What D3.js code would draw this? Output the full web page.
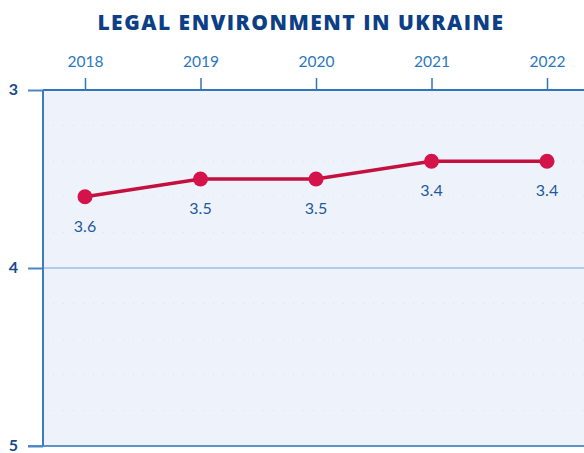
<!DOCTYPE html>
<meta charset="utf-8">
<style>
  body { margin: 0; background: #fff; }
  text { font-family: "Lato", "Open Sans", sans-serif; }
</style>
<body>
<script src="https://cdn.jsdelivr.net/npm/d3@7"></script>
<script>

    // data
    var years = ["2018", "2019", "2020", "2021", "2022"];
    var scores = [3.6, 3.5, 3.5, 3.4, 3.4];
    var yTicks = [3, 4, 5];

    var margin = {top: 90, right: 0, bottom: 7, left: 43},
        width = 584 - margin.left - margin.right,
        height = 453 - margin.top - margin.bottom;

    var x = d3.scalePoint()
        .domain(years)
        .range([42, 504]);
    var y = d3.scaleLinear()
        .domain([3, 5])
        .range([0, height]);

    var svg = d3.select("body").append("svg")
        .attr("width", 584)
        .attr("height", 453);

    svg.append("text")
        .attr("x", 301)
        .attr("y", 30)
        .attr("text-anchor", "middle")
        .attr("fill", "#0d3f86")
        .style("font-family", "'Open Sans', sans-serif")
        .style("font-size", "21px")
        .style("font-weight", "800")
        .style("letter-spacing", "1.5px")
        .text("LEGAL ENVIRONMENT IN UKRAINE");

    var g = svg.append("g")
        .attr("transform", "translate(" + margin.left + "," + margin.top + ")");

    // plot background
    g.append("rect")
        .attr("width", width)
        .attr("height", height)
        .attr("fill", "#eef3fb");

    // faint dotted minor grid
    g.selectAll(".minor")
        .data(d3.range(3.2, 5, 0.2).filter(function (d) { return Math.abs(d - 4) > 0.01; }))
        .enter().append("line")
        .attr("x1", 0).attr("x2", width)
        .attr("y1", function (d) { return y(d); })
        .attr("y2", function (d) { return y(d); })
        .attr("stroke", "#d9e2ef")
        .attr("stroke-width", 1)
        .attr("stroke-dasharray", "1,9");

    // gridline at 4
    g.append("line")
        .attr("x1", 0).attr("x2", width)
        .attr("y1", y(4)).attr("y2", y(4))
        .attr("stroke", "#b3cde9")
        .attr("stroke-width", 2);

    // top axis
    var xAxis = g.append("g")
        .call(d3.axisTop(x).tickSize(12).tickPadding(11));
    xAxis.select(".domain").remove();
    xAxis.selectAll(".tick line").attr("stroke", "#2f74bd").attr("stroke-width", 1.5);
    xAxis.selectAll(".tick text")
        .attr("fill", "#2a78c0")
        .style("font-size", "15.5px");

    g.append("line")
        .attr("x1", 0).attr("x2", width)
        .attr("y1", 0).attr("y2", 0)
        .attr("stroke", "#2f74bd").attr("stroke-width", 2);

    // bottom line
    g.append("line")
        .attr("x1", -15).attr("x2", width)
        .attr("y1", height).attr("y2", height)
        .attr("stroke", "#5d93c9").attr("stroke-width", 2);

    // left axis
    var yAxis = g.append("g")
        .call(d3.axisLeft(y).tickValues(yTicks).tickSize(15).tickPadding(10).tickFormat(d3.format("d")));
    yAxis.select(".domain").remove();
    yAxis.selectAll(".tick line").attr("stroke", "#4a86c5").attr("stroke-width", 2);
    yAxis.selectAll(".tick text")
        .attr("fill", "#174a8b")
        .attr("dy", "0.3em")
        .style("font-size", "16px")
        .style("font-weight", "bold");

    g.append("line")
        .attr("x1", 0).attr("x2", 0)
        .attr("y1", 0).attr("y2", height)
        .attr("stroke", "#3f7cbf").attr("stroke-width", 2);

    // line
    var line = d3.line()
        .x(function (d, i) { return x(years[i]); })
        .y(function (d) { return y(d); });

    g.append("path")
        .datum(scores)
        .attr("d", line)
        .attr("fill", "none")
        .attr("stroke", "#c4103f")
        .attr("stroke-width", 3.5);

    g.selectAll(".dot")
        .data(scores)
        .enter().append("circle")
        .attr("cx", function (d, i) { return x(years[i]); })
        .attr("cy", function (d) { return y(d); })
        .attr("r", 7.5)
        .attr("fill", "#d4134a");

    g.selectAll(".val")
        .data(scores)
        .enter().append("text")
        .attr("x", function (d, i) { return x(years[i]); })
        .attr("y", function (d) { return y(d) + 35; })
        .attr("text-anchor", "middle")
        .attr("fill", "#1d5a9c")
        .style("font-size", "16px")
        .text(function (d) { return d.toFixed(1); });

</script>
</body>
